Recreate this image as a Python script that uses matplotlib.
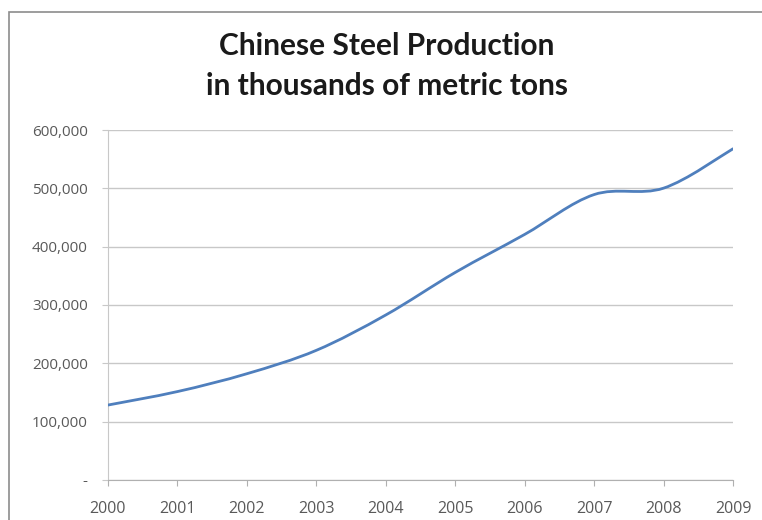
import matplotlib
matplotlib.use("Agg")
import matplotlib.pyplot as plt
from matplotlib.path import Path
from matplotlib.patches import PathPatch, Rectangle
from matplotlib.ticker import FuncFormatter
import numpy as np

years = [2000, 2001, 2002, 2003, 2004, 2005, 2006, 2007, 2008, 2009]
production = [128500, 151600, 182200, 222300, 282900, 355800, 421000, 489300, 500300, 567800]
yticks = [0, 100000, 200000, 300000, 400000, 500000, 600000]
title = "Chinese Steel Production\nin thousands of metric tons"

fig = plt.figure(figsize=(7.62, 5.2), dpi=100)
fig.patches.append(Rectangle((9/762, -0.1), 1.2, 1 - 12/520 + 0.1, transform=fig.transFigure,
                             fill=False, edgecolor="#8c8c8c", linewidth=1.2))
ax = fig.add_axes([108/762, 1 - 480/520, (733-108)/762, 350/520])

# Smoothed line (Catmull-Rom style Bezier, like Excel's smoothed line)
x = np.array(years, dtype=float)
y = np.array(production, dtype=float)
n = len(x)
verts = [(x[0], y[0])]
codes = [Path.MOVETO]
for i in range(n - 1):
    p0 = (x[i-1], y[i-1]) if i > 0 else (x[i], y[i])
    p1 = (x[i], y[i])
    p2 = (x[i+1], y[i+1])
    p3 = (x[i+2], y[i+2]) if i + 2 < n else (x[i+1], y[i+1])
    c1 = (p1[0] + (p2[0]-p0[0])/6, p1[1] + (p2[1]-p0[1])/6)
    c2 = (p2[0] - (p3[0]-p1[0])/6, p2[1] - (p3[1]-p1[1])/6)
    verts += [c1, c2, p2]
    codes += [Path.CURVE4]*3
ax.add_patch(PathPatch(Path(verts, codes), fill=False, edgecolor="#4f7fbd",
                       linewidth=2.0, capstyle="round", joinstyle="round", zorder=3))

ax.set_xlim(years[0], years[-1])
ax.set_ylim(0, 600000)
ax.set_xticks(years)
ax.set_yticks(yticks)
ax.yaxis.set_major_formatter(FuncFormatter(lambda v, p: "-" if v == 0 else f"{int(v):,}"))
ax.grid(axis="y", color="#c8c8c8", linewidth=1.0)
ax.set_axisbelow(True)
for s in ["top", "right"]:
    ax.spines[s].set_visible(False)
ax.spines["left"].set_color("#c8c8c8")
ax.spines["bottom"].set_color("#b0b0b0")
ax.tick_params(axis="y", length=4.5, color="#c8c8c8", labelsize=11, labelcolor="#595959", pad=10)
ax.tick_params(axis="x", length=4, color="#b0b0b0", labelsize=11.5, labelcolor="#595959", pad=11)
for lab in ax.get_xticklabels() + ax.get_yticklabels():
    lab.set_family(["Open Sans", "DejaVu Sans"])

fig.text(387/762, 1 - 66/520, title, ha="center", va="center", fontsize=21.5, fontweight="bold",
         family=["Lato", "DejaVu Sans"], color="#1a1a1a", linespacing=1.5)

fig.savefig("out.png", dpi=100)
